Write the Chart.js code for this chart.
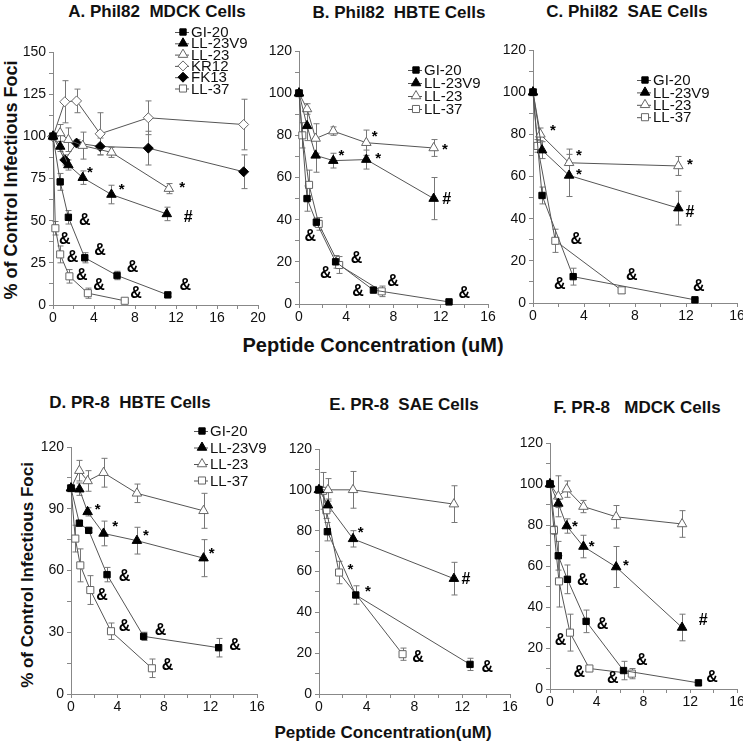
<!DOCTYPE html>
<html>
<head>
<meta charset="utf-8">
<script src="https://cdn.jsdelivr.net/npm/chart.js@4.4.1/dist/chart.umd.min.js"></script>
<style>
body { margin: 0; background: #fff; width: 743px; height: 745px; position: relative; overflow: hidden;
       font-family: "Liberation Sans", Arial, sans-serif; }
canvas { position: absolute; }
.t { position: absolute; transform: translate(-50%, -50%); font-weight: bold; font-size: 17px; white-space: nowrap; color: #111; }
.yt { transform: translate(-50%, -50%) rotate(-90deg); }
</style>
</head>
<body>
<div class="t" style="left:157px;top:12px">A. Phil82&nbsp; MDCK Cells</div>
<div class="t" style="left:399px;top:13px">B. Phil82&nbsp; HBTE Cells</div>
<div class="t" style="left:627px;top:12px">C. Phil82&nbsp; SAE Cells</div>
<div class="t" style="left:130px;top:403px">D. PR-8&nbsp; HBTE Cells</div>
<div class="t" style="left:404px;top:405px">E. PR-8&nbsp; SAE Cells</div>
<div class="t" style="left:637px;top:408px">F. PR-8&nbsp;&nbsp; MDCK Cells</div>
<div class="t yt" style="left:11px;top:180px;font-size:18px">% of Control Infectious Foci</div>
<div class="t yt" style="left:28px;top:575px">% of Control Infectious Foci</div>
<div class="t" style="left:373px;top:345px;font-size:20px">Peptide Concentration (uM)</div>
<div class="t" style="left:383px;top:733px">Peptide Concentration(uM)</div>

<script>
// ---- A. Phil82 MDCK ----
const A_GI20_x = [0, 0.7, 1.5, 3.1, 6.25, 11.2];
const A_GI20_y = [100, 73, 52, 28, 17.5, 6];
const A_GI20_e = [0, 5, 4, 3, 2.5, 1];
const A_V9_x = [0, 0.7, 1.5, 2.9, 5.7, 11.1];
const A_V9_y = [100, 94, 83, 75.5, 65.5, 54];
const A_V9_e = [0, 3, 3, 4, 5.5, 4];
const A_L23_x = [0, 0.7, 1.5, 2.9, 5.7, 11.3];
const A_L23_y = [100, 102, 98, 94.5, 90.5, 69];
const A_L23_e = [0, 5, 7, 8, 3, 3];
const A_KR12_x = [0, 1.15, 2.3, 4.6, 9.3, 18.6];
const A_KR12_y = [100, 120.5, 121, 101.5, 111, 107];
const A_KR12_e = [0, 12.5, 7, 12.5, 10, 15];
const A_FK13_x = [0, 1.15, 2.3, 4.6, 9.3, 18.6];
const A_FK13_y = [100, 86, 96, 94, 93, 79];
const A_FK13_e = [0, 3, 2, 5, 10, 10];
const A_L37_x = [0, 0.23, 0.7, 1.6, 3.4, 7.0];
const A_L37_y = [100, 45.5, 30, 17, 7, 2.5];
const A_L37_e = [0, 4, 5, 4, 3, 1];
const A_marks = [['*', 3.6, 80], ['*', 6.7, 70], ['*', 12.6, 71], ['#', 13.2, 52],
  ['&', 3.1, 50], ['&', 1.15, 39], ['&', 4.6, 32], ['&', 1.9, 28], ['&', 7.75, 22],
  ['&', 2.8, 17.7], ['&', 4.5, 11.8], ['&', 12.9, 11.8], ['&', 8.1, 6.5]];

// ---- B. Phil82 HBTE ----
const B_GI20_x = [0, 0.68, 1.47, 3.1, 6.3, 12.7];
const B_GI20_y = [100, 50, 38.8, 20, 6.6, 1];
const B_GI20_e = [0, 6, 2, 3, 1, 0.5];
const B_V9_x = [0, 0.68, 1.41, 2.9, 5.7, 11.4];
const B_V9_y = [100, 84.5, 70.5, 68, 68.5, 50];
const B_V9_e = [0, 7, 8, 3.5, 4.5, 10];
const B_L23_x = [0, 0.68, 1.41, 2.9, 5.7, 11.4];
const B_L23_y = [100, 92.5, 78.5, 82, 76.5, 74];
const B_L23_e = [0, 2.5, 7, 2, 6, 4];
const B_L37_x = [0, 0.28, 0.85, 1.67, 3.4, 7.0];
const B_L37_y = [100, 80, 56.5, 38, 18.5, 6];
const B_L37_e = [0, 6, 7, 3, 4, 2.5];
const B_marks = [['*', 6.4, 80.7], ['*', 12.35, 74.7], ['*', 3.6, 71.9], ['*', 6.7, 70.4],
  ['#', 12.5, 49.5], ['&', 0.96, 32.2], ['&', 4.86, 21.5], ['&', 2.26, 14.6],
  ['&', 7.97, 10.5], ['&', 5.0, 6.1], ['&', 14, 4.7]];

// ---- C. Phil82 SAE ----
const C_GI20_x = [0, 0.71, 3.15, 12.7];
const C_GI20_y = [100, 51, 12.5, 1.5];
const C_GI20_e = [0, 4, 4, 0.5];
const C_V9_x = [0, 0.71, 2.83, 11.4];
const C_V9_y = [100, 72.5, 60.5, 45];
const C_V9_e = [0, 4, 10, 8];
const C_L23_x = [0, 0.58, 2.83, 11.4];
const C_L23_y = [100, 80, 66.5, 65];
const C_L23_e = [0, 3, 6.5, 4.5];
const C_L37_x = [0, 0.35, 1.75, 6.95];
const C_L37_y = [100, 74.5, 29.5, 6];
const C_L37_e = [0, 3, 5.5, 1.5];
const C_marks = [['*', 1.57, 83], ['*', 3.6, 71.4], ['*', 3.6, 62.4], ['*', 12.3, 67],
  ['#', 12.3, 42.7], ['&', 3.4, 30], ['&', 2.1, 8.7], ['&', 7.75, 13], ['&', 13, 7.9]];

// ---- D. PR-8 HBTE ----
const D_GI20_x = [0, 0.72, 1.52, 3.1, 6.25, 12.7];
const D_GI20_y = [100, 83, 79.5, 58, 28, 22.5];
const D_GI20_e = [0, 1, 1, 3.5, 2, 4.5];
const D_V9_x = [0, 0.72, 1.43, 2.8, 5.67, 11.4];
const D_V9_y = [100, 99.5, 88.5, 78, 74.5, 66];
const D_V9_e = [0, 3, 2, 6, 6.5, 9];
const D_L23_x = [0, 0.72, 1.43, 2.8, 5.67, 11.4];
const D_L23_y = [100, 108.5, 103.5, 107.5, 97.5, 89];
const D_L23_e = [0, 5, 5, 7, 4.5, 8.5];
const D_L37_x = [0, 0.37, 0.8, 1.66, 3.44, 6.96];
const D_L37_y = [100, 75.5, 62.5, 50.5, 30.5, 12.5];
const D_L37_e = [0, 6.5, 8, 7, 4, 4.5];
const D_marks = [['*', 2.3, 91], ['*', 3.8, 82.5], ['*', 6.45, 78.5], ['*', 12.1, 69.5],
  ['&', 4.6, 57], ['&', 2.67, 47.8], ['&', 4.6, 32.8], ['&', 7.7, 30.7],
  ['&', 14.1, 23.7], ['&', 8.3, 13.9]];

// ---- E. PR-8 SAE ----
const E_GI20_x = [0, 0.7, 3.08, 12.65];
const E_GI20_y = [100, 79.5, 48.5, 14.5];
const E_GI20_e = [0, 4.5, 4.5, 3];
const E_V9_x = [0, 0.75, 2.85, 11.3];
const E_V9_y = [100, 92.5, 76, 56.5];
const E_V9_e = [0, 3, 4, 8];
const E_L23_x = [0, 0.75, 2.85, 11.3];
const E_L23_y = [100, 100, 100, 93];
const E_L23_e = [0, 5.5, 9, 9];
const E_L37_x = [0, 0.34, 0.62, 1.68, 7.0];
const E_L37_y = [100, 99.5, 90, 59.5, 19.5];
const E_L37_e = [0, 9, 4, 5.5, 3];
const E_marks = [['*', 3.5, 80.4], ['*', 2.63, 62.4], ['*', 4.1, 51.4], ['#', 12.3, 56],
  ['&', 8.3, 18], ['&', 14.1, 12.7]];

// ---- F. PR-8 MDCK ----
const F_GI20_x = [0, 0.71, 1.49, 3.09, 6.29, 12.7];
const F_GI20_y = [100, 65, 53.5, 33, 9, 3];
const F_GI20_e = [0, 7, 7, 5.5, 4.5, 1];
const F_V9_x = [0, 0.71, 1.43, 2.86, 5.66, 11.3];
const F_V9_y = [100, 90.5, 79.5, 69.5, 59.5, 30];
const F_V9_e = [0, 2, 3.5, 5.5, 10, 6.5];
const F_L23_x = [0, 0.71, 1.43, 2.86, 5.66, 11.3];
const F_L23_y = [100, 94, 97.5, 89, 84, 80.5];
const F_L23_e = [0, 10, 4, 3, 5.5, 6.5];
const F_L37_x = [0, 0.34, 0.77, 1.71, 3.37, 7.0];
const F_L37_y = [100, 77.5, 52.5, 27.5, 10, 7.5];
const F_L37_e = [0, 2, 12.5, 9, 1, 2.5];
const F_marks = [['*', 2.14, 80.6], ['*', 3.57, 71], ['*', 6.5, 61.6], ['#', 13.1, 33.2],
  ['&', 2.8, 52.7], ['&', 4.5, 31.6], ['&', 0.91, 23.8], ['&', 7.86, 13.8],
  ['&', 2.51, 7.8], ['&', 5.37, 4.9], ['&', 13.86, 5.7]];

const FONT = '"Liberation Sans", Arial, sans-serif';

// marker look per peptide
const SERIES = {
  'GI-20':   { pointStyle: 'rect', radius: 4.5, fill: '#000', stroke: '#000' },
  'LL-23V9': { pointStyle: 'triangle', radius: 5.5, fill: '#000', stroke: '#000' },
  'LL-23':   { pointStyle: 'triangle', radius: 5.5, fill: '#fff', stroke: '#666' },
  'KR12':    { pointStyle: 'rectRot', radius: 5, fill: '#fff', stroke: '#666' },
  'FK13':    { pointStyle: 'rectRot', radius: 5, fill: '#000', stroke: '#000' },
  'LL-37':   { pointStyle: 'rect', radius: 5, fill: '#fff', stroke: '#666' }
};

// vertical error bars, drawn under lines and markers
const errorBars = {
  id: 'errorBars',
  beforeDatasetsDraw(chart) {
    const { ctx } = chart;
    const y = chart.scales.y;
    ctx.save();
    ctx.strokeStyle = '#777';
    ctx.lineWidth = 1;
    chart.data.datasets.forEach((ds, i) => {
      const meta = chart.getDatasetMeta(i);
      ds.err.forEach((e, j) => {
        if (!e) return;
        const px = Math.round(meta.data[j].x) + 0.5;
        const v = ds.data[j].y;
        const t = y.getPixelForValue(v + e), b = y.getPixelForValue(v - e);
        ctx.beginPath();
        ctx.moveTo(px, t); ctx.lineTo(px, b);
        ctx.moveTo(px - 3, t); ctx.lineTo(px + 3, t);
        ctx.moveTo(px - 3, b); ctx.lineTo(px + 3, b);
        ctx.stroke();
      });
    });
    ctx.restore();
  }
};

// significance symbols (&, *, #)
const marks = {
  id: 'marks',
  afterDatasetsDraw(chart, args, opts) {
    const { ctx, scales: { x, y } } = chart;
    ctx.save();
    ctx.fillStyle = '#000';
    ctx.textAlign = 'center';
    ctx.textBaseline = 'middle';
    opts.items.forEach(([s, vx, vy]) => {
      ctx.font = (s === '*' ? 'bold 15px ' : 'bold 16px ') + FONT;
      ctx.fillText(s, x.getPixelForValue(vx), y.getPixelForValue(vy) + (s === '*' ? 3 : 0));
    });
    ctx.restore();
  }
};

// small legend with line + marker + label
const figLegend = {
  id: 'figLegend',
  afterDraw(chart, args, opts) {
    const { ctx } = chart;
    ctx.save();
    ctx.font = '15px ' + FONT;
    ctx.textBaseline = 'middle';
    chart.data.datasets.forEach((ds, i) => {
      const s = SERIES[ds.label];
      const lx = opts.x, ly = opts.y + i * opts.dy;
      ctx.strokeStyle = '#555';
      ctx.lineWidth = 1;
      ctx.beginPath();
      ctx.moveTo(lx - 8, ly + 0.5); ctx.lineTo(lx + 6, ly + 0.5);
      ctx.stroke();
      ctx.fillStyle = s.fill;
      ctx.strokeStyle = s.stroke;
      Chart.helpers.drawPoint(ctx, { pointStyle: s.pointStyle, radius: s.radius, borderWidth: 1, rotation: 0 }, lx, ly);
      ctx.fillStyle = '#111';
      ctx.fillText(ds.label, lx + 8, ly + 1);
    });
    ctx.restore();
  }
};

function makePanel(p) {
  const M = { l: 50, t: 32, r: 18, b: 28 };
  const W = p.plot.r - p.plot.l + M.l + M.r;
  const H = p.plot.b - p.plot.t + M.t + M.b;
  const ox = p.plot.l - M.l, oy = p.plot.t - M.t;
  const cv = document.createElement('canvas');
  cv.width = W; cv.height = H;
  cv.style.left = ox + 'px'; cv.style.top = oy + 'px';
  cv.style.width = W + 'px'; cv.style.height = H + 'px';
  document.body.appendChild(cv);

  const datasets = p.series.map(([name, xs, ys, es]) => {
    const s = SERIES[name];
    return {
      label: name,
      data: xs.map((x, i) => ({ x: x, y: ys[i] })),
      err: es,
      showLine: true,
      borderColor: '#555',
      borderWidth: 1,
      pointStyle: s.pointStyle,
      pointRadius: s.radius,
      pointBackgroundColor: s.fill,
      pointBorderColor: s.stroke,
      pointBorderWidth: 1,
      clip: false
    };
  });

  const tickFont = { family: FONT, size: 14 };
  new Chart(cv, {
    type: 'scatter',
    data: { datasets },
    options: {
      responsive: false,
      animation: false,
      devicePixelRatio: 1,
      layout: { padding: { left: 0, top: M.t, right: M.r, bottom: 0 } },
      plugins: {
        legend: { display: false },
        tooltip: { enabled: false },
        marks: { items: p.marks },
        figLegend: p.legend ? { x: p.legend.x - ox, y: p.legend.y - oy, dy: p.legend.dy } : false
      },
      scales: {
        x: {
          type: 'linear', min: 0, max: p.xMax,
          ticks: { stepSize: 2, autoSkip: false, maxRotation: 0, padding: 1, color: '#111', font: tickFont,
                   callback: v => (v % 4 === 0 ? v : '') },
          grid: { drawOnChartArea: false, tickLength: 4, color: '#888' },
          border: { color: '#888' },
          afterFit: s => { s.height = M.b; s.paddingLeft = 0; s.paddingRight = 0; }
        },
        y: {
          min: 0, max: p.yMax,
          ticks: { stepSize: p.yLab / 2, autoSkip: false, padding: 3, color: '#111', font: tickFont,
                   callback: v => (v % p.yLab === 0 ? v : '') },
          grid: { drawOnChartArea: false, tickLength: 4, color: '#888' },
          border: { color: '#888' },
          afterFit: s => { s.width = M.l; s.paddingTop = 0; s.paddingBottom = 0; }
        }
      }
    },
    plugins: [errorBars, marks, figLegend]
  });
}

makePanel({
  plot: { l: 53, t: 52, r: 258, b: 305 }, xMax: 20, yMax: 150, yLab: 25,
  legend: { x: 183, y: 32, dy: 11.3 },
  series: [['GI-20', A_GI20_x, A_GI20_y, A_GI20_e], ['LL-23V9', A_V9_x, A_V9_y, A_V9_e],
           ['LL-23', A_L23_x, A_L23_y, A_L23_e], ['KR12', A_KR12_x, A_KR12_y, A_KR12_e],
           ['FK13', A_FK13_x, A_FK13_y, A_FK13_e], ['LL-37', A_L37_x, A_L37_y, A_L37_e]],
  marks: A_marks
});
makePanel({
  plot: { l: 299, t: 51, r: 488, b: 304 }, xMax: 16, yMax: 120, yLab: 20,
  legend: { x: 416, y: 70, dy: 13 },
  series: [['GI-20', B_GI20_x, B_GI20_y, B_GI20_e], ['LL-23V9', B_V9_x, B_V9_y, B_V9_e],
           ['LL-23', B_L23_x, B_L23_y, B_L23_e], ['LL-37', B_L37_x, B_L37_y, B_L37_e]],
  marks: B_marks
});
makePanel({
  plot: { l: 533, t: 50, r: 737, b: 303 }, xMax: 16, yMax: 120, yLab: 20,
  legend: { x: 645, y: 80, dy: 12.4 },
  series: [['GI-20', C_GI20_x, C_GI20_y, C_GI20_e], ['LL-23V9', C_V9_x, C_V9_y, C_V9_e],
           ['LL-23', C_L23_x, C_L23_y, C_L23_e], ['LL-37', C_L37_x, C_L37_y, C_L37_e]],
  marks: C_marks
});
makePanel({
  plot: { l: 71, t: 447, r: 257, b: 694 }, xMax: 16, yMax: 120, yLab: 30,
  legend: { x: 202, y: 431, dy: 16.5 },
  series: [['GI-20', D_GI20_x, D_GI20_y, D_GI20_e], ['LL-23V9', D_V9_x, D_V9_y, D_V9_e],
           ['LL-23', D_L23_x, D_L23_y, D_L23_e], ['LL-37', D_L37_x, D_L37_y, D_L37_e]],
  marks: D_marks
});
makePanel({
  plot: { l: 319, t: 449, r: 510, b: 694 }, xMax: 16, yMax: 120, yLab: 20,
  legend: null,
  series: [['GI-20', E_GI20_x, E_GI20_y, E_GI20_e], ['LL-23V9', E_V9_x, E_V9_y, E_V9_e],
           ['LL-23', E_L23_x, E_L23_y, E_L23_e], ['LL-37', E_L37_x, E_L37_y, E_L37_e]],
  marks: E_marks
});
makePanel({
  plot: { l: 550, t: 443, r: 737, b: 689 }, xMax: 16, yMax: 120, yLab: 20,
  legend: null,
  series: [['GI-20', F_GI20_x, F_GI20_y, F_GI20_e], ['LL-23V9', F_V9_x, F_V9_y, F_V9_e],
           ['LL-23', F_L23_x, F_L23_y, F_L23_e], ['LL-37', F_L37_x, F_L37_y, F_L37_e]],
  marks: F_marks
});
</script>
</body>
</html>
